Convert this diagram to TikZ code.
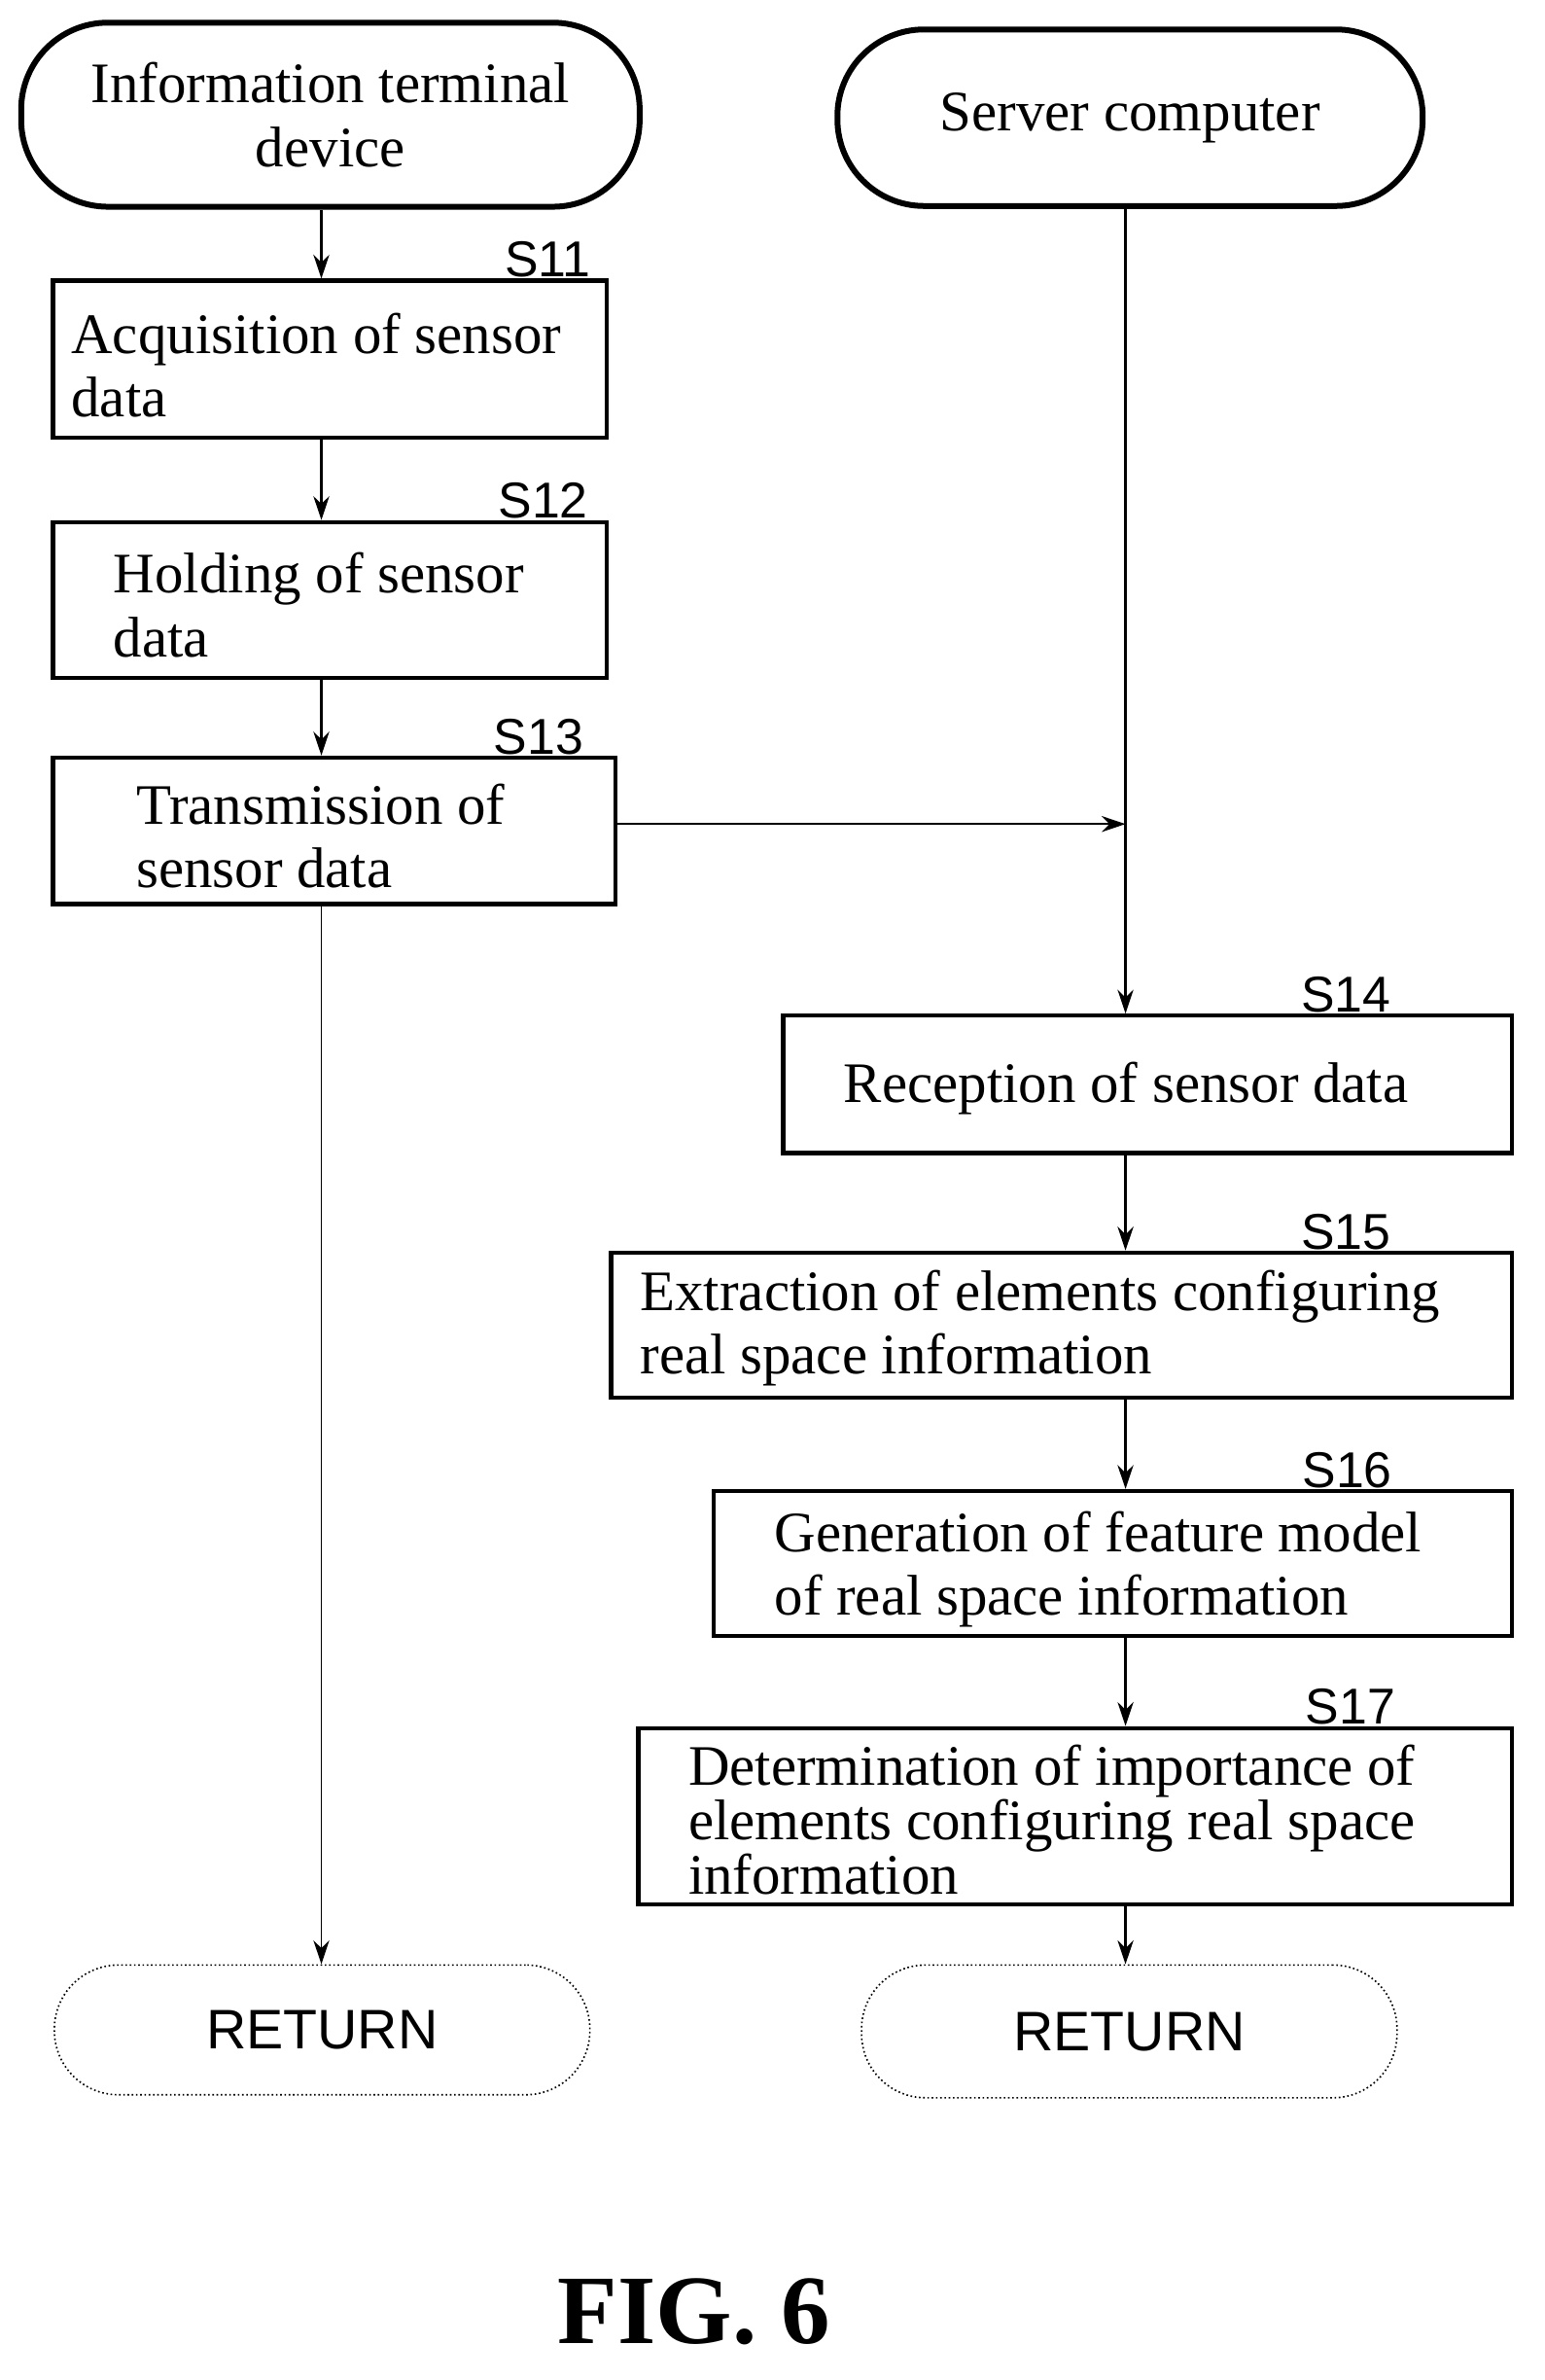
\documentclass[tikz,border=0pt]{standalone}
\usepackage{fontspec}
\setmainfont{Liberation Serif}
\newfontfamily\lab{Liberation Sans}
\usetikzlibrary{arrows.meta}
\begin{document}
\begin{tikzpicture}[x=0.02cm,y=-0.02cm,
 box/.style={draw,line width=1.6pt,inner sep=0},
 term/.style={draw,line width=2.2pt,rounded corners=1.15cm,inner sep=0},
 ret/.style={draw,line width=0.6pt,densely dotted,rounded corners=0.85cm,inner sep=0},
 txt/.style={anchor=west,align=left,font=\fontsize{21.6}{24}\selectfont,inner sep=0},
 slab/.style={font=\lab\fontsize{19}{20}\selectfont,inner sep=0},
 rtxt/.style={font=\lab\fontsize{21}{22}\selectfont},
 arr/.style={-{Stealth[length=9pt,width=6pt]},line width=0.8pt}]
\useasboundingbox (0,0) rectangle (1024,1577);
\coordinate (lx) at (213,0);
\coordinate (rx) at (746,0);
\node[term,minimum width=8.2cm,minimum height=2.44cm] (T1) at (219,76) {};
\node[font=\fontsize{21.6}{24}\selectfont,align=center] at (T1) {Information terminal\\device};
\node[term,minimum width=7.76cm,minimum height=2.34cm] (T2) at (749,78) {};
\node[font=\fontsize{21.6}{24}\selectfont] at (T2) {Server computer};
\node[box,minimum width=7.34cm,minimum height=2.08cm] (S11) at (218.5,238) {};
\node[txt] at (47,242) {Acquisition of sensor\\data};
\node[box,minimum width=7.34cm,minimum height=2.06cm] (S12) at (218.5,397.5) {};
\node[txt] at (75,401) {Holding of sensor\\data};
\node[box,minimum width=7.46cm,minimum height=1.94cm] (S13) at (221.5,550.5) {};
\node[txt] at (90,554) {Transmission of\\sensor data};
\node[box,minimum width=9.66cm,minimum height=1.82cm] (S14) at (760.5,718.5) {};
\node[txt] at (559,721) {Reception of sensor data};
\node[box,minimum width=11.94cm,minimum height=1.92cm] (S15) at (703.5,878) {};
\node[txt] at (424,880) {Extraction of elements configuring\\real space information};
\node[box,minimum width=10.58cm,minimum height=1.92cm] (S16) at (737.5,1036) {};
\node[txt] at (513,1040) {Generation of feature model\\of real space information};
\node[box,minimum width=11.58cm,minimum height=2.34cm] (S17) at (712.5,1203.5) {};
\node[txt,font=\fontsize{21.6}{20.5}\selectfont] at (456,1206) {Determination of importance of\\elements configuring real space\\information};
\node[ret,minimum width=7.1cm,minimum height=1.72cm] (R1) at (213.5,1345) {};
\node[rtxt] at (R1) {RETURN};
\node[ret,minimum width=7.1cm,minimum height=1.76cm] (R2) at (748.5,1346) {};
\node[rtxt] at (R2) {RETURN};
\node[slab] at (363,172) {S11};
\node[slab] at (360,332) {S12};
\node[slab] at (357,488) {S13};
\node[slab] at (892,659) {S14};
\node[slab] at (892,816) {S15};
\node[slab] at (893,974) {S16};
\node[slab] at (895,1131) {S17};
\draw[arr] (T1.south -| lx) -- (S11.north -| lx);
\draw[arr] (S11.south -| lx) -- (S12.north -| lx);
\draw[arr] (S12.south -| lx) -- (S13.north -| lx);
\draw[arr,line width=0.5pt] (S13.south -| lx) -- (R1.north -| lx);
\coordinate (m) at (746,546);
\draw[arr] (S13.east |- m) -- (m);
\draw[arr] (T2.south -| rx) -- (S14.north -| rx);
\draw[arr] (S14.south -| rx) -- (S15.north -| rx);
\draw[arr] (S15.south -| rx) -- (S16.north -| rx);
\draw[arr] (S16.south -| rx) -- (S17.north -| rx);
\draw[arr] (S17.south -| rx) -- (R2.north -| rx);
\node[font=\bfseries\fontsize{37}{39}\selectfont] (fig) at (460,1532) {FIG. 6};
\end{tikzpicture}
\end{document}
